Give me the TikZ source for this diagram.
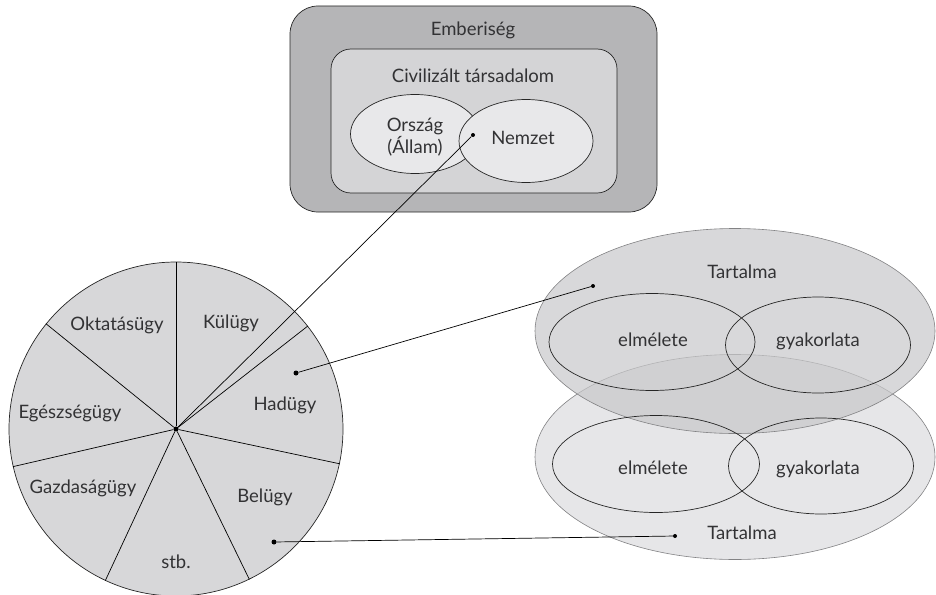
\documentclass[tikz,border=0pt]{standalone}
\usepackage{fontspec}
\setmainfont{Lato}
\usetikzlibrary{positioning}
\usetikzlibrary{shapes.geometric}
\definecolor{outerGray}{RGB}{181,181,183}
\definecolor{innerGray}{RGB}{212,212,214}
\definecolor{paleGray}{RGB}{232,232,234}
\definecolor{pieGray}{RGB}{215,215,217}
\definecolor{topGray}{RGB}{200,200,202}
\definecolor{bottomGray}{RGB}{230,230,232}
\definecolor{rimGray}{RGB}{130,130,132}
\definecolor{inkGray}{RGB}{50,50,52}
\tikzstyle{box} = [draw=black!85, line width=0.7pt]
\tikzstyle{part} = [draw=black!85, ellipse, line width=0.7pt, inner sep=0pt]
\tikzstyle{cloud} = [draw=rimGray, ellipse, line width=0.6pt, inner sep=0pt]
\tikzstyle{txt} = [text=inkGray, font=\fontsize{18.5}{22.5}\selectfont, align=center, inner sep=0pt]
\tikzstyle{dot} = [circle, fill=black, inner sep=0pt, minimum size=5pt]
\tikzstyle{spoke} = [draw, line width=0.7pt]
\tikzstyle{link} = [draw, line width=0.7pt]

\begin{document}
\begin{tikzpicture}[x=1pt, y=-1pt]
	\useasboundingbox (0,0) rectangle (936,594);
	
	% top: nested sets
	\node[box, fill=outerGray, rounded corners=28pt, minimum width=367pt, minimum height=206pt] (emberiseg) at (473.5,109) {};
	\node[txt] (emberisegText) at (473,30) {Emberiség};
	\node[box, fill=innerGray, rounded corners=20pt, minimum width=286pt, minimum height=144pt] (tarsadalom) at (474,121) {};
	\node[txt] (tarsadalomText) at (473,76) {Civilizált társadalom};
	\node[part, fill=paleGray, minimum width=129pt, minimum height=79pt] (orszag) at (415,134) {};
	\node[txt] (orszagText) at (415,137) {Ország\\(Állam)};
	\node[part, fill=paleGray, minimum width=134pt, minimum height=83pt] (nemzet) at (526,141) {};
	\node[txt] (nemzetText) at (523,138) {Nemzet};
	\node[dot, minimum size=4pt] (nemzetDot) at (473,135) {};
	
	% right: two fields with theory and practice
	\node[cloud, fill=bottomGray, minimum width=400pt, minimum height=205pt] (tartalomAlso) at (735,457) {};
	\node[cloud, fill=topGray, fill opacity=0.7, minimum width=400pt, minimum height=205pt] (tartalomFelso) at (735,331) {};
	\node[part, minimum width=206pt, minimum height=97pt] (elmeletFelso) at (652,342) {};
	\node[part, minimum width=185pt, minimum height=96pt] (gyakorlatFelso) at (818,345) {};
	\node[part, minimum width=207pt, minimum height=97pt] (elmeletAlso) at (656,464) {};
	\node[part, minimum width=185pt, minimum height=96pt] (gyakorlatAlso) at (821,466) {};
	\node[txt] (tartalomFelsoText) at (742,272) {Tartalma};
	\node[txt] (elmeletFelsoText) at (653,340) {elmélete};
	\node[txt] (gyakorlatFelsoText) at (818,341) {gyakorlata};
	\node[txt] (elmeletAlsoText) at (653,468) {elmélete};
	\node[txt] (gyakorlatAlsoText) at (818,469) {gyakorlata};
	\node[txt] (tartalomAlsoText) at (742,533) {Tartalma};
	\node[dot, minimum size=4pt] (felsoDot) at (593,286) {};
	\node[dot, minimum size=4pt] (alsoDot) at (675,536) {};
	
	% left: sectors of the state
	\node[circle, draw=black!85, line width=0.7pt, fill=pieGray, inner sep=0pt, minimum size=334pt] (pie) at (176,429) {};
	\node[dot] (pieCenter) at (176,429) {};
	\path[spoke] (pieCenter) -- (pie.90);
	\path[spoke] (pieCenter) -- (pie.38.57);
	\path[spoke] (pieCenter) -- (pie.-12.86);
	\path[spoke] (pieCenter) -- (pie.-64.29);
	\path[spoke] (pieCenter) -- (pie.-115.71);
	\path[spoke] (pieCenter) -- (pie.-167.14);
	\path[spoke] (pieCenter) -- (pie.141.43);
	\node[txt] (oktatas) at (117,325) {Oktatásügy};
	\node[txt] (kulugy) at (231,323) {Külügy};
	\node[txt] (hadugy) at (285,405) {Hadügy};
	\node[txt] (egeszseg) at (70,413) {Egészségügy};
	\node[txt] (gazdasag) at (83,488) {Gazdaságügy};
	\node[txt] (belugy) at (265,497) {Belügy};
	\node[txt] (stb) at (176,562) {stb.};
	\node[dot] (hadugyDot) at (296,373) {};
	\node[dot] (belugyDot) at (274,542) {};
	
	\path[link] (pieCenter) -- (nemzetDot);
	\path[link] (hadugyDot) -- (felsoDot);
	\path[link] (belugyDot) -- (alsoDot);
\end{tikzpicture}
\end{document}
